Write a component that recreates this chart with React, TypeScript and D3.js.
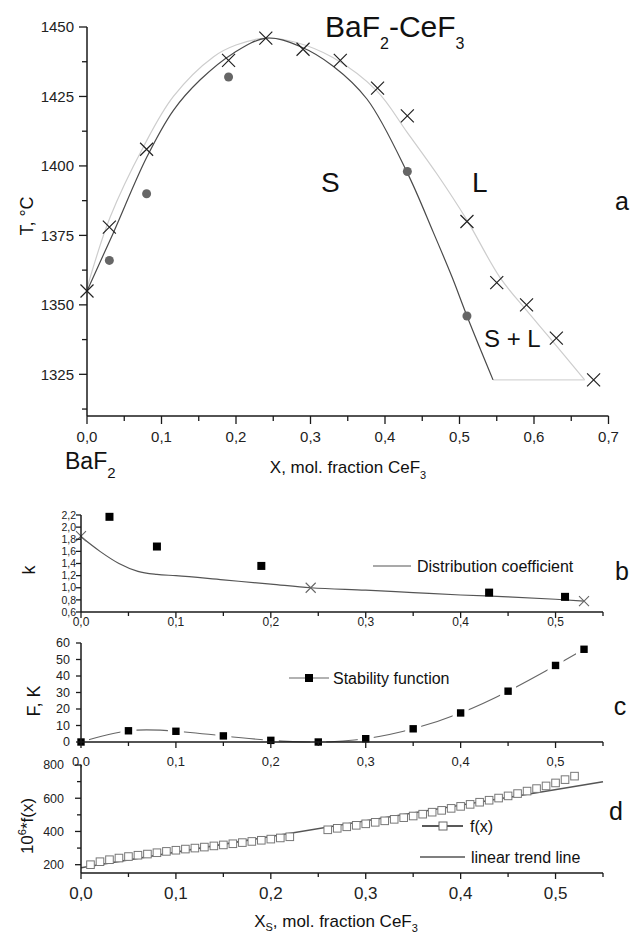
import * as d3 from "d3";

const FONT = "'Liberation Sans', Arial, Helvetica, sans-serif";
const loc = d3.formatLocale({ decimal: ",", thousands: " ", grouping: [3], currency: ["", ""] });
const f1 = loc.format(".1f");
const f0 = d3.format("d");

// ---- a: phase diagram BaF2-CeF3
const liqX = [0, 0.03, 0.08, 0.19, 0.24, 0.29, 0.34, 0.39, 0.43, 0.51, 0.55, 0.59, 0.63, 0.68];
const liqT = [1355, 1378, 1406, 1438, 1446, 1442, 1438, 1428, 1418, 1380, 1358, 1350, 1338, 1323];
const solX = [0.03, 0.08, 0.19, 0.43, 0.51];
const solT = [1366, 1390, 1432, 1398, 1346];
// fitted curves
const liqCurveX = [0, 0.031, 0.076, 0.116, 0.17, 0.2, 0.24, 0.28, 0.33, 0.389, 0.43, 0.47, 0.51, 0.554, 0.59, 0.62, 0.668];
const liqCurveT = [1356, 1381.5, 1407, 1425, 1439.3, 1443.5, 1446, 1444.5, 1439, 1427, 1412, 1397, 1380.5, 1360, 1348, 1338.5, 1323];
const solCurveX = [0, 0.035, 0.08, 0.116, 0.152, 0.196, 0.241, 0.286, 0.33, 0.376, 0.43, 0.465, 0.49, 0.51, 0.545];
const solCurveT = [1355, 1375.7, 1403, 1420, 1431, 1440.5, 1446, 1443, 1436, 1424, 1397.5, 1376, 1360, 1346, 1323];
const eutX = [0.545, 0.668];
const eutT = [1323, 1323];

// ---- b: distribution coefficient
const kSqX = [0.03, 0.08, 0.19, 0.43, 0.51];
const kSq = [2.17, 1.68, 1.36, 0.92, 0.85];
const kCrX = [0, 0.242, 0.53];
const kCr = [1.85, 1.0, 0.78];
const kLineX = [0, 0.02, 0.04, 0.06, 0.08, 0.1, 0.15, 0.2, 0.242, 0.3, 0.35, 0.4, 0.45, 0.5, 0.53];
const kLine = [1.84, 1.6, 1.4, 1.27, 1.22, 1.2, 1.13, 1.06, 1.0, 0.96, 0.92, 0.88, 0.85, 0.81, 0.78];

// ---- c: stability function
const fsX = [0, 0.05, 0.1, 0.15, 0.2, 0.25, 0.3, 0.35, 0.4, 0.45, 0.5, 0.53];
const fsV = [0, 6.8, 6.5, 3.7, 1.0, 0, 2.0, 8.0, 17.6, 30.8, 46.4, 56.2];

// ---- d: f(x) and trend
const fxX = [
  0.01, 0.02, 0.03, 0.04, 0.05, 0.06, 0.07, 0.08, 0.09, 0.1, 0.11, 0.12, 0.13, 0.14, 0.15, 0.16, 0.17, 0.18, 0.19, 0.2, 0.21, 0.22,
  0.26, 0.27, 0.28, 0.29, 0.3, 0.31, 0.32, 0.33, 0.34, 0.35, 0.36, 0.37, 0.38, 0.39, 0.4, 0.41, 0.42, 0.43, 0.44, 0.45, 0.46, 0.47,
  0.48, 0.49, 0.5, 0.51, 0.52,
];
const fxV = [
  200, 218, 230, 240, 249, 257, 264, 272, 280, 287, 294, 300, 306, 313, 319, 326, 333, 340, 347, 354, 361, 368,
  410, 419, 428, 437, 446, 455, 464, 473, 483, 493, 504, 516, 527, 539, 551, 563, 576, 588, 601, 614, 628, 643,
  658, 674, 692, 712, 733,
];
const trendX = [0, 0.55];
const trendV = [182, 699];

// scales
const xA = d3.scaleLinear().domain([0, 0.7]).range([87, 608.5]);
const yA = d3.scaleLinear().domain([1310, 1450]).range([416, 27]);
const xB = d3.scaleLinear().domain([0, 0.55]).range([81, 603]);
const yB = d3.scaleLinear().domain([0.6, 2.2]).range([612, 515]);
const yC = d3.scaleLinear().domain([0, 60]).range([742, 643]);
const yD = d3.scaleLinear().domain([150, 800]).range([873, 765]);

const AX = "#1a1a1a";

function BottomAxis({ x, y, major, minor, fmt, fs, ly, big = 7, small = 4 }: any) {
  const [r0, r1] = x.range();
  return (
    <g>
      <line x1={r0} x2={r1} y1={y} y2={y} stroke={AX} strokeWidth={1.5} />
      {minor.map((v: number) => (
        <line key={"m" + v} x1={x(v)} x2={x(v)} y1={y} y2={y + small} stroke={AX} strokeWidth={1.3} />
      ))}
      {major.map((v: number) => (
        <g key={v}>
          <line x1={x(v)} x2={x(v)} y1={y} y2={y + big} stroke={AX} strokeWidth={1.3} />
          <text x={x(v)} y={ly} textAnchor="middle" fontSize={fs} fill="#222">
            {fmt(v)}
          </text>
        </g>
      ))}
    </g>
  );
}

function LeftAxis({ y, x, major, minor, fmt, fs, lx, big = 8, small = 4 }: any) {
  const [r0, r1] = y.range();
  return (
    <g>
      <line x1={x} x2={x} y1={r0} y2={r1} stroke={AX} strokeWidth={1.5} />
      {minor.map((v: number) => (
        <line key={"m" + v} x1={x - small} x2={x} y1={y(v)} y2={y(v)} stroke={AX} strokeWidth={1.3} />
      ))}
      {major.map((v: number) => (
        <g key={v}>
          <line x1={x - big} x2={x} y1={y(v)} y2={y(v)} stroke={AX} strokeWidth={1.3} />
          <text x={lx} y={y(v)} dy="0.35em" textAnchor="end" fontSize={fs} fill="#222">
            {fmt(v)}
          </text>
        </g>
      ))}
    </g>
  );
}

function Cross({ cx, cy, s, color, w = 1.2 }: any) {
  return (
    <path
      d={`M${cx - s},${cy - s}L${cx + s},${cy + s}M${cx - s},${cy + s}L${cx + s},${cy - s}`}
      stroke={color}
      strokeWidth={w}
      fill="none"
    />
  );
}

export default function App() {
  const lineA = (xs: number[], ys: number[]) =>
    d3
      .line<number>()
      .x((d, i) => xA(xs[i]))
      .y((d) => yA(d))
      .curve(d3.curveCatmullRom.alpha(0.5))(ys) as string;
  const lineBx = (xs: number[], ys: number[], sc: any, curve: any) =>
    d3
      .line<number>()
      .x((d, i) => xB(xs[i]))
      .y((d) => sc(d))
      .curve(curve)(ys) as string;

  const xTicksA = xA.ticks(7);
  const xMinorA = d3.range(7).map((i) => i / 10 + 0.05);
  const yTicksA = d3.range(1325, 1451, 25);
  const yMinorA = d3.range(1312.5, 1450, 25);

  const xTicksB = d3.range(6).map((i) => i / 10);
  const xMinorB = d3.range(6).map((i) => i / 10 + 0.05);

  return (
    <svg width={632} height={935} style={{ display: "block", position: "absolute", left: 0, top: 0 }} fontFamily={FONT}>
      <rect width={632} height={935} fill="#fff" />

      {/* ---------- a ---------- */}
      <path d={lineA(liqCurveX, liqCurveT)} fill="none" stroke="#cdcdcd" strokeWidth={1.2} />
      <path d={lineA(eutX, eutT)} fill="none" stroke="#d6d6d6" strokeWidth={1.2} />
      <path d={lineA(solCurveX, solCurveT)} fill="none" stroke="#4a4a4a" strokeWidth={1.2} />
      {solX.map((v, i) => (
        <circle key={"s" + i} cx={xA(v)} cy={yA(solT[i])} r={4.5} fill="#666" />
      ))}
      {liqX.map((v, i) => (
        <Cross key={"l" + i} cx={xA(v)} cy={yA(liqT[i])} s={6.5} color="#222" w={1.2} />
      ))}
      <LeftAxis y={yA} x={87} major={yTicksA} minor={yMinorA} fmt={f0} fs={15} lx={74} big={8} small={5} />
      <BottomAxis x={xA} y={416} major={xTicksA} minor={xMinorA} fmt={f1} fs={15} ly={442} big={8} small={5} />

      <text x={325} y={37} fontSize={30} fill="#111">
        BaF<tspan fontSize={16} dy={12}>2</tspan>
        <tspan dy={-12}>-CeF</tspan>
        <tspan fontSize={16} dy={12}>3</tspan>
      </text>
      <text x={321} y={192} fontSize={28} fill="#111">S</text>
      <text x={472} y={192} fontSize={28} fill="#111">L</text>
      <text x={484} y={347} fontSize={24} fill="#111">S + L</text>
      <text x={622} y={210} fontSize={25} textAnchor="middle" fill="#111">a</text>
      <text transform="translate(33,216) rotate(-90)" textAnchor="middle" fontSize={18} fill="#111">
        T, °C
      </text>
      <text x={65} y={469} fontSize={23} fill="#111">
        BaF<tspan fontSize={15} dy={9}>2</tspan>
      </text>
      <text x={348} y={473} fontSize={17} textAnchor="middle" fill="#111">
        X, mol. fraction CeF<tspan fontSize={11} dy={6}>3</tspan>
      </text>

      {/* ---------- b ---------- */}
      <path d={lineBx(kLineX, kLine, yB, d3.curveMonotoneX)} fill="none" stroke="#555" strokeWidth={1.2} />
      {kSqX.map((v, i) => (
        <rect key={"k" + i} x={xB(v) - 4} y={yB(kSq[i]) - 4} width={8} height={8} fill="#000" />
      ))}
      {kCrX.map((v, i) => (
        <Cross key={"kc" + i} cx={xB(v)} cy={yB(kCr[i])} s={5} color="#666" w={1.1} />
      ))}
      <LeftAxis y={yB} x={81} major={yB.ticks(8)} minor={[]} fmt={f1} fs={10.5} lx={76} big={5} />
      <BottomAxis x={xB} y={612} major={xTicksB} minor={xMinorB} fmt={f1} fs={12} ly={626} big={6} small={4} />
      <line x1={373} x2={411} y1={566} y2={566} stroke="#555" strokeWidth={1.2} />
      <text x={417} y={566} dy="0.35em" fontSize={16} fill="#111">Distribution coefficient</text>
      <text transform="translate(35,570) rotate(-90)" textAnchor="middle" fontSize={18} fill="#111">k</text>
      <text x={622} y={580} fontSize={25} textAnchor="middle" fill="#111">b</text>

      {/* ---------- c ---------- */}
      <path d={lineBx(fsX, fsV, yC, d3.curveNatural)} fill="none" stroke="#666" strokeWidth={1.1} />
      {fsX.map((v, i) => (
        <rect key={"fw" + i} x={xB(v) - 8} y={yC(fsV[i]) - 8} width={16} height={16} fill="#fff" />
      ))}
      {fsX.map((v, i) => (
        <rect key={"f" + i} x={xB(v) - 3.7} y={yC(fsV[i]) - 3.7} width={7.4} height={7.4} fill="#000" />
      ))}
      <LeftAxis y={yC} x={81} major={yC.ticks(6)} minor={[]} fmt={f0} fs={12.5} lx={70} big={5} />
      <BottomAxis x={xB} y={742} major={xTicksB} minor={xMinorB} fmt={f1} fs={13} ly={766} big={6} small={4} />
      <line x1={289} x2={329} y1={678} y2={678} stroke="#666" strokeWidth={1.1} />
      <rect x={305} y={674} width={8} height={8} fill="#000" />
      <text x={333} y={678} dy="0.35em" fontSize={16} fill="#111">Stability function</text>
      <text transform="translate(40,701) rotate(-90)" textAnchor="middle" fontSize={18} fill="#111">F, K</text>
      <text x={620} y={715} fontSize={25} textAnchor="middle" fill="#111">c</text>

      {/* ---------- d ---------- */}
      <path d={lineBx(trendX, trendV, yD, d3.curveLinear)} fill="none" stroke="#555" strokeWidth={1.5} />
      {fxX.map((v, i) => (
        <rect key={"x" + i} x={xB(v) - 3.8} y={yD(fxV[i]) - 3.8} width={7.6} height={7.6} fill="#fff" stroke="#777" strokeWidth={1} />
      ))}
      <LeftAxis y={yD} x={81} major={[200, 400, 600, 800]} minor={[300, 500, 700]} fmt={f0} fs={12.5} lx={64} big={6} small={4} />
      <BottomAxis x={xB} y={873} major={xTicksB} minor={xMinorB} fmt={f1} fs={17} ly={899} big={6} small={4} />
      <line x1={422} x2={463} y1={826} y2={826} stroke="#222" strokeWidth={1.4} />
      <rect x={439} y={822} width={8} height={8} fill="#fff" stroke="#666" strokeWidth={1} />
      <text x={470} y={826} dy="0.35em" fontSize={16} fill="#111">f(x)</text>
      <line x1={420} x2={465} y1={857} y2={857} stroke="#555" strokeWidth={1.3} />
      <text x={471} y={857} dy="0.35em" fontSize={16} fill="#111">linear trend line</text>
      <text transform="translate(33,826) rotate(-90)" textAnchor="middle" fontSize={17} fill="#111">
        10<tspan fontSize={11} dy={-7}>6</tspan>
        <tspan dy={7}>*f(x)</tspan>
      </text>
      <text x={616} y={820} fontSize={25} textAnchor="middle" fill="#111">d</text>
      <text x={336} y={927} fontSize={17} textAnchor="middle" fill="#111">
        X<tspan fontSize={11} dy={4}>S</tspan>
        <tspan dy={-4}>, mol. fraction CeF</tspan>
        <tspan fontSize={11} dy={5}>3</tspan>
      </text>
    </svg>
  );
}
